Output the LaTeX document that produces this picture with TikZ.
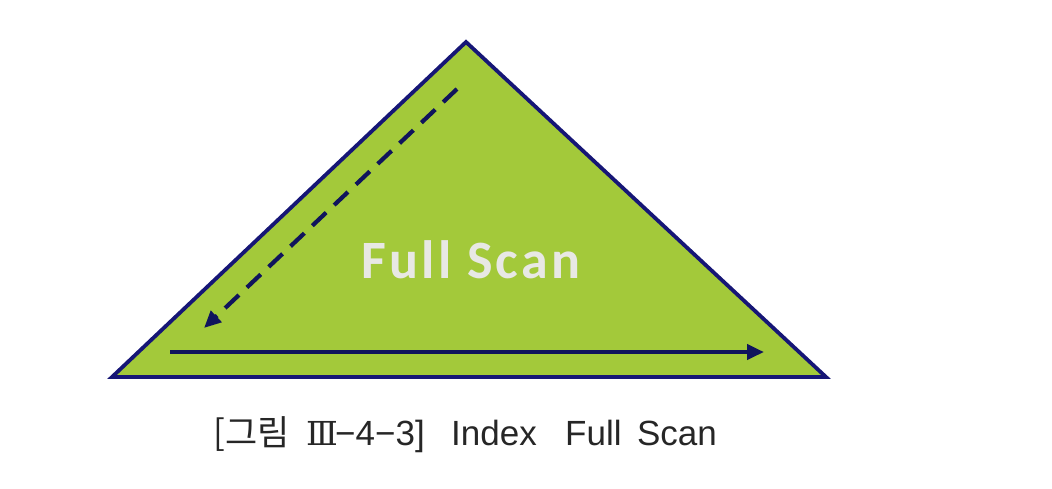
\documentclass[tikz,border=0pt]{standalone}
\usepackage{fontspec}
\setmainfont{Carlito}
\newfontfamily\krfont{Noto Sans CJK KR}
\newfontfamily\capfont{Liberation Sans}
\newfontfamily\numfont{DejaVu Serif}
\newfontfamily\titlefont[LetterSpace=6]{Carlito}
\usetikzlibrary{arrows.meta}
\definecolor{leaf}{RGB}{163,201,58}
\definecolor{navy}{RGB}{22,22,118}
\definecolor{arrowblue}{RGB}{16,20,92}
\definecolor{paletext}{RGB}{232,232,228}
\begin{document}
\begin{tikzpicture}[x=1pt,y=-1pt,
  tri/.style={fill=leaf,draw=navy,line width=3.8pt,line join=miter},
  scanarrow/.style={draw=arrowblue,line width=4.2pt,-{Triangle[length=17pt,width=15pt]}},
  dashscan/.style={scanarrow,dash pattern=on 19pt off 11pt},
  title/.style={font=\titlefont\bfseries\fontsize{54}{54}\selectfont,text=paletext,inner sep=0pt},
  caption/.style={font=\capfont\fontsize{35}{35}\selectfont,text=black!85,inner sep=0pt}]
\useasboundingbox (0,0) rectangle (1052,488);
\coordinate (apex) at (466,42);
\coordinate (bl) at (112,377);
\coordinate (br) at (826,377);
\draw[tri] (apex) -- (br) -- (bl) -- cycle;
\coordinate (ds) at (457,89);
\coordinate (de) at (204,328);
\coordinate (ss) at (170,352);
\coordinate (se) at (764,352);
\draw[dashscan] (ds) -- (de);
\draw[scanarrow] (ss) -- (se);
\node[title] (ft) at (471,260) {Full Scan};
\node[caption,anchor=base west] (cap) at (213,445) {\makebox[93pt][l]{\krfont [그림}\makebox[29pt][l]{\numfont\fontsize{33}{33}\selectfont Ⅲ}\makebox[116pt][l]{−4−3]}\makebox[114pt][l]{Index}\makebox[72pt][l]{Full}Scan};
\end{tikzpicture}
\end{document}
